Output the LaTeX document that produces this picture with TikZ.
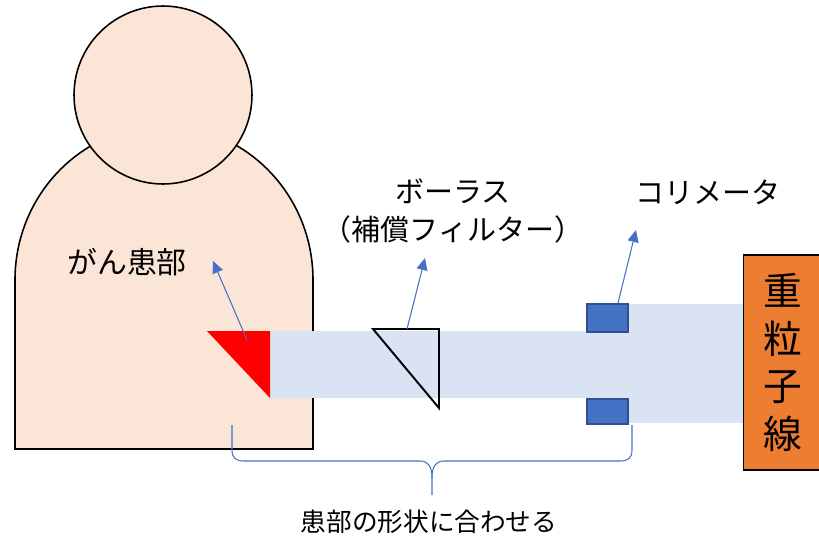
\documentclass[tikz,border=0pt]{standalone}
\usepackage{fontspec}
\setmainfont{Noto Sans CJK JP}
\usetikzlibrary{arrows.meta}
\definecolor{skin}{HTML}{FBE5D6}
\definecolor{beam}{HTML}{DAE3F3}
\definecolor{accent}{HTML}{4472C4}
\definecolor{accentdark}{HTML}{2F528F}
\definecolor{source}{HTML}{ED7D31}
\begin{document}
\begin{tikzpicture}[x=0.02cm, y=-0.02cm,
  body/.style={draw, line width=0.9pt, fill=skin},
  ray/.style={fill=beam},
  jaw/.style={draw=accentdark, line width=0.6pt, fill=accent},
  arr/.style={-{Triangle[length=2.4mm,width=2.2mm]}, draw=accent, line width=0.6pt},
  lbl/.style={font=\fontsize{16.5}{21.5}\selectfont, align=center, inner sep=0pt}
]
  \useasboundingbox (0,0) rectangle (819,538);

  % patient
  \draw[body] (15,449) -- (15,280) .. controls (15,195) and (82,126) .. (164,126)
    .. controls (246,126) and (313,195) .. (313,280) -- (313,449) -- cycle;
  \node[body, circle, minimum size=3.56cm, inner sep=0pt] (head) at (163,95) {};

  % beam path
  \fill[ray] (587,304) rectangle (743,423);
  \fill[ray] (270,331) rectangle (587,398);
  \fill[red] (207,331) -- (270,331) -- (270,398) -- cycle;
  \draw[line width=1.1pt] (373,329) -- (439,329) -- (439,408) -- cycle;
  \draw[jaw] (587,304) rectangle (628,332);
  \draw[jaw] (587,399) rectangle (628,424);
  \node[draw, line width=0.9pt, fill=source, minimum width=1.58cm, minimum height=4.3cm,
        font=\fontsize{22}{27.2}\selectfont, align=center] (src) at (783,362.5)
        {重\\粒\\子\\線};

  % pointers
  \coordinate (tumor)    at (247,340);
  \coordinate (tumortip) at (213,261);
  \coordinate (bolus)    at (407,329);
  \coordinate (bolustip) at (425,258);
  \coordinate (colli)    at (618,303);
  \coordinate (collitip) at (636,230);
  \draw[arr] (tumor) -- (tumortip);
  \draw[arr] (bolus) -- (bolustip);
  \draw[arr] (colli) -- (collitip);

  \node[lbl, font=\fontsize{17}{21}\selectfont] (tumorlbl) at (127,262) {がん患部};
  \node[lbl] (boluslbl) at (453,211) {ボーラス\\（補償フィルター）};
  \node[lbl] (collilbl) at (708,192) {コリメータ};

  % brace
  \coordinate (bracel)   at (232,425);
  \coordinate (bracer)   at (632,425);
  \coordinate (bracetip) at (432,495);
  \draw[accent, line width=0.6pt] (bracel) -- (232,450) .. controls (232,458) and (236,461) .. (244,461)
    -- (420,461) .. controls (428,461) and (432,466) .. (432,478) -- (bracetip);
  \draw[accent, line width=0.6pt] (bracer) -- (632,450) .. controls (632,458) and (628,461) .. (620,461)
    -- (444,461) .. controls (436,461) and (432,466) .. (432,478);
  \node[lbl, font=\fontsize{14.6}{18}\selectfont] (fitlbl) at (429,522) {患部の形状に合わせる};
\end{tikzpicture}
\end{document}
